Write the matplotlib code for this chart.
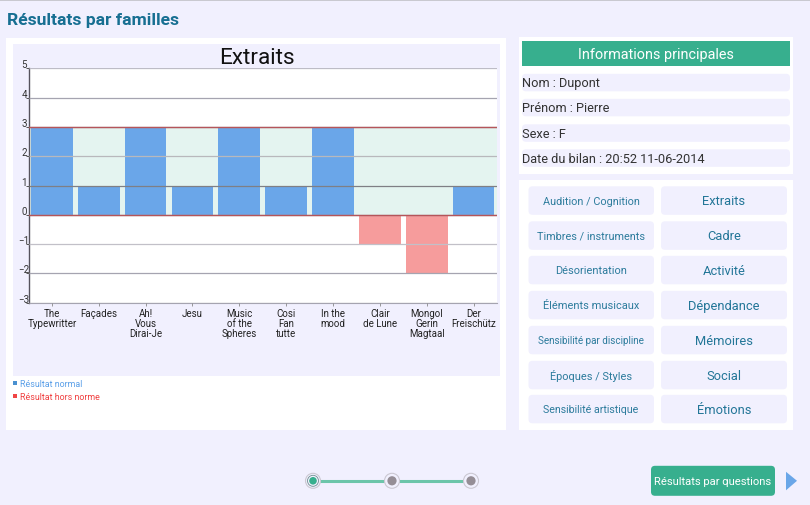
import matplotlib
matplotlib.use("Agg")
import matplotlib.pyplot as plt
from matplotlib.patches import FancyBboxPatch, Rectangle, Polygon, Circle
from matplotlib.transforms import ScaledTranslation

plt.rcParams['font.family'] = ['Roboto', 'DejaVu Sans']

# chart data
extracts = ["The\nTypewritter", "Façades", "Ah!\nVous\nDirai-Je", "Jesu", "Music\nof the\nSpheres",
            "Cosi\nFan\ntutte", "In the\nmood", "Clair\nde Lune", "Mongol\nGerin\nMagtaal", "Der\nFreischütz"]
scores = [3, 1, 3, 1, 3, 1, 3, -1, -2, 1]
norm_low = 0
norm_high = 3
y_ticks = [-3, -2, -1, 0, 1, 2, 3, 4, 5]
grid_colors = ["#A5A4B0", "#A5A4B0", "#C2C0C8", "#A5A4B0", "#7F7F85", "#B8B8BC", "#A5A4B0", "#A5A4B0", "#BDBCC6"]

# page text
info_rows = ["Nom : Dupont", "Prénom : Pierre", "Sexe : F", "Date du bilan : 20:52 11-06-2014"]
left_buttons = ["Audition / Cognition", "Timbres / instruments", "Désorientation", "Éléments musicaux",
                "Sensibilité par discipline", "Époques / Styles", "Sensibilité artistique"]
left_sizes = [7.8, 7.8, 7.9, 7.9, 7.15, 7.9, 7.7]
right_buttons = ["Extraits", "Cadre", "Activité", "Dépendance", "Mémoires", "Social", "Émotions"]

BG = "#F1F0FE"
TEAL = "#176F92"
GREEN = "#37AF8E"

fig = plt.figure(figsize=(8.1, 5.06), dpi=100, facecolor=BG)

# full page axes, in pixels (shifted a bit to line up with the reference)
ui = fig.add_axes([0, 0, 1, 1], zorder=0)
ui.set_xlim(0, 810)
ui.set_ylim(505.2, -0.8)
ui.axis("off")


def box(x0, y0, x1, y1, color, r=0, z=1):
    if r == 0:
        ui.add_patch(Rectangle((x0, y0), x1 - x0, y1 - y0, fc=color, ec="none", zorder=z))
    else:
        ui.add_patch(FancyBboxPatch((x0 + r, y0 + r), x1 - x0 - 2 * r, y1 - y0 - 2 * r,
                                    boxstyle=f"round,pad={r},rounding_size={r}",
                                    fc=color, ec="none", zorder=z))


box(0, -1, 810, 0.8, "#C9C9D0")
ui.text(7, 20, "Résultats par familles", fontsize=12.6, fontweight="bold", color=TEAL, va="center")

# chart panel
box(6, 38, 506, 430, "white")
box(13, 44, 500, 376, BG, z=2)
ui.text(257, 58, "Extraits", fontsize=16.2, color="#111111", ha="center", va="center", zorder=3)

# legend
box(13, 381, 17, 385.5, "#4A90D0", z=3)
ui.text(20, 383.5, "Résultat normal", fontsize=6.4, color="#5A9FE8", va="center", zorder=3)
box(13, 394, 17, 398.5, "#F04545", z=3)
ui.text(20, 396.5, "Résultat hors norme", fontsize=6.4, color="#F04040", va="center", zorder=3)

# info panel
box(519, 37, 793, 174, "white")
box(522, 41, 790, 66.5, GREEN, z=2)
ui.text(656, 54, "Informations principales", fontsize=10.4, color="white", ha="center", va="center", zorder=3)
info_tops = [74, 99, 124.5, 149.5]
for label, top in zip(info_rows, info_tops):
    box(522, top, 790, top + 17.5, BG, r=4, z=2)
    ui.text(522, top + 9, label, fontsize=9.2, color="#333333", va="center", zorder=3)

# button panel
box(519, 180, 793, 430, "white")
button_tops = [186.5, 221.5, 256, 291, 326, 361, 395]
for top, left, size, right in zip(button_tops, left_buttons, left_sizes, right_buttons):
    box(528.5, top, 654, top + 28.5, BG, r=4, z=2)
    box(661, top, 787, top + 28.5, BG, r=4, z=2)
    ui.text(591, top + 14.5, left, fontsize=size, color=TEAL, ha="center", va="center", zorder=3, alpha=0.9)
    ui.text(724, top + 14.5, right, fontsize=9.3, color=TEAL, ha="center", va="center", zorder=3, alpha=0.95)

# stepper
ui.plot([313, 471], [481, 481], color="#6CC5AA", lw=2.2, zorder=2)
for i, cx in enumerate([313, 392, 471]):
    ui.add_patch(Circle((cx, 481), 7.5, fc=BG, ec="#CBC8D2", lw=0.8, zorder=3))
    if i == 0:
        ui.add_patch(Circle((cx, 481), 5.5, fc=BG, ec="#6F8F90", lw=0.6, zorder=3))
        ui.add_patch(Circle((cx, 481), 3.8, fc=GREEN, ec="none", zorder=4))
    else:
        ui.add_patch(Circle((cx, 481), 4.6, fc="#958E96", ec="none", zorder=4))

# next button
box(651, 466, 775, 496, GREEN, r=4)
ui.text(713, 481.5, "Résultats par questions", fontsize=8.1, color="white", ha="center", va="center", zorder=3)
ui.add_patch(Polygon([(786, 472), (797, 481), (786, 490.5)], fc="#6AA6E8", ec="none", zorder=3))

# bar chart, placed on the pixel grid of the page
ax_left, ax_right = 28.5, 497
ax_top, ax_bottom = 69.3, 303.8
ax = fig.add_axes([ax_left / 810, 1 - ax_bottom / 506, (ax_right - ax_left) / 810, (ax_bottom - ax_top) / 506],
                  zorder=2)
positions = list(range(len(scores)))
ax.set_xlim(-0.5, len(scores) - 0.5)
ax.set_ylim(min(y_ticks), max(y_ticks))
ax.set_facecolor("white")

ax.axhspan(norm_low, norm_high, color="#E4F4F0", lw=0, zorder=1)
colors = ["#6AA6E9" if s >= 0 else "#F69C9C" for s in scores]
ax.bar(positions, scores, width=0.89, color=colors, linewidth=0, zorder=2)

ax.set_yticks(y_ticks)
ax.set_xticks(positions)
ax.set_xticklabels(extracts, fontsize=7.0, color="#222222", linespacing=1.0)
ax.tick_params(axis="y", length=2.5, width=0.7, color="#555555", labelsize=7.0, labelcolor="#333333",
               pad=-1.5)
ax.tick_params(axis="x", length=2, width=0.6, color="#888888", pad=2)
for tick, lab in zip(y_ticks, ax.get_yticklabels()):
    lab.set_verticalalignment("bottom")
    dx = 2 if tick < 0 else 0
    lab.set_transform(lab.get_transform() + ScaledTranslation(dx / 100, -1 / 100, fig.dpi_scale_trans))

ax.grid(axis="y", lw=0.9, zorder=3)
ax.set_axisbelow(False)
for line, c in zip(ax.get_ygridlines(), grid_colors):
    line.set_color(c)
for v in (norm_low, norm_high):
    ax.axhline(v, color="#B5555A", lw=1.0, zorder=4)

for side in ("top", "right"):
    ax.spines[side].set_visible(False)
ax.spines["left"].set_color("#55525C")
ax.spines["left"].set_linewidth(1.0)
ax.spines["bottom"].set_color("#A5A4B0")
ax.spines["bottom"].set_linewidth(0.8)

fig.savefig("out.png", dpi=100, facecolor=BG)
